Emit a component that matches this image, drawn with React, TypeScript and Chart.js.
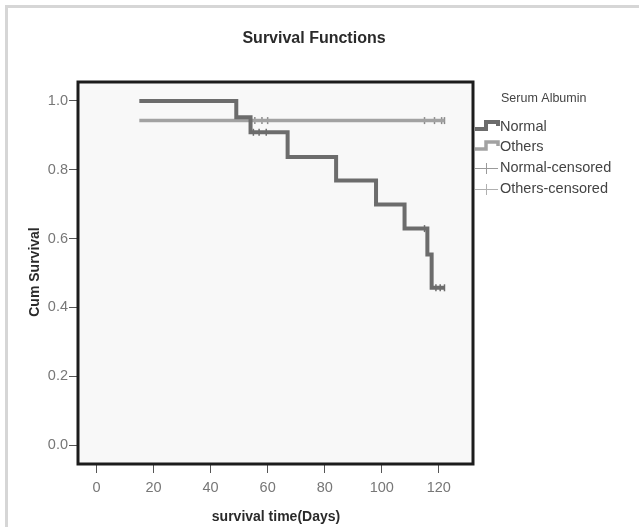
import React, { useEffect, useRef } from "react";
import { Chart, registerables } from "chart.js";

Chart.register(...registerables);

// ---- data ----
const normalTimes = [15, 49, 54, 67, 84, 98, 108, 116, 117.5, 122];
const normalSurv = [1.0, 0.953, 0.909, 0.837, 0.769, 0.699, 0.629, 0.554, 0.457, 0.457];
const othersTimes = [15, 122];
const othersSurv = [0.943, 0.943];
const normalCensoredTimes = [55, 57, 59.5, 115, 119, 120.5, 122];
const normalCensoredSurv = [0.909, 0.909, 0.909, 0.629, 0.457, 0.457, 0.457];
const othersCensoredTimes = [55.5, 58, 60, 115, 118.5, 121, 122];
const othersCensoredSurv = [0.943, 0.943, 0.943, 0.943, 0.943, 0.943, 0.943];
const xTicks = [0, 20, 40, 60, 80, 100, 120];
const yTicks = [0, 0.2, 0.4, 0.6, 0.8, 1.0];
const legendTitle = "Serum Albumin";
const legendLabels = ["Normal", "Others", "Normal-censored", "Others-censored"];
const chartTitle = "Survival Functions";
const xTitle = "survival time(Days)";
const yTitle = "Cum Survival";

const NORMAL_COLOR = "#6c6c6c";
const OTHERS_COLOR = "#a2a2a2";
const FONT = "'Liberation Sans', Arial, sans-serif";

const zip = (xs: number[], ys: number[]) => xs.map((x, i) => ({ x, y: ys[i] }));

const decorPlugin = {
  id: "decor",
  beforeDraw(chart: any) {
    const { ctx, chartArea } = chart;
    ctx.save();
    ctx.fillStyle = "#ffffff";
    ctx.fillRect(0, 0, chart.width, chart.height);
    // outer light frame
    ctx.fillStyle = "#d6d6d6";
    ctx.fillRect(5, 5, chart.width - 5, 3);
    ctx.fillRect(5, 5, 3, chart.height - 5);
    // plot background
    ctx.fillStyle = "#f8f8f8";
    ctx.fillRect(chartArea.left, chartArea.top, chartArea.right - chartArea.left, chartArea.bottom - chartArea.top);
    ctx.restore();
  },
  afterDraw(chart: any) {
    const { ctx, chartArea } = chart;
    ctx.save();
    // box
    ctx.strokeStyle = "#1c1c1c";
    ctx.lineWidth = 3;
    ctx.strokeRect(chartArea.left, chartArea.top, chartArea.right - chartArea.left, chartArea.bottom - chartArea.top);

    // title
    ctx.fillStyle = "#2a2a2a";
    ctx.textAlign = "center";
    ctx.textBaseline = "middle";
    ctx.font = `bold 16px ${FONT}`;
    ctx.fillText(chartTitle, 314, 39);

    // axis titles
    ctx.font = `bold 14px ${FONT}`;
    ctx.fillText(xTitle, 276, 517);
    ctx.save();
    ctx.translate(35, 272);
    ctx.rotate(-Math.PI / 2);
    ctx.fillText(yTitle, 0, 0);
    ctx.restore();

    // legend
    const lx = chartArea.right + 2;
    ctx.textAlign = "left";
    ctx.fillStyle = "#444444";
    ctx.font = `12.5px ${FONT}`;
    ctx.fillText(legendTitle, 501, 99);
    ctx.font = `14.5px ${FONT}`;
    const rows = [127, 147, 168, 189];
    legendLabels.forEach((lab, i) => ctx.fillText(lab, 500, rows[i]));

    const stepIcon = (y: number, color: string, w: number) => {
      ctx.strokeStyle = color;
      ctx.lineWidth = w;
      ctx.lineJoin = "miter";
      ctx.beginPath();
      ctx.moveTo(lx, y + 2);
      ctx.lineTo(486, y + 2);
      ctx.lineTo(486, y - 5);
      ctx.lineTo(498, y - 5);
      ctx.lineTo(498, y - 1);
      ctx.stroke();
    };
    stepIcon(rows[0], NORMAL_COLOR, 4);
    stepIcon(rows[1], OTHERS_COLOR, 3.5);
    const crossIcon = (y: number, color: string) => {
      ctx.strokeStyle = color;
      ctx.lineWidth = 1;
      ctx.beginPath();
      ctx.moveTo(lx, y + 0.5);
      ctx.lineTo(498, y + 0.5);
      ctx.moveTo(486.5, y - 5);
      ctx.lineTo(486.5, y + 6);
      ctx.stroke();
    };
    crossIcon(rows[2], "#9a9a9a");
    crossIcon(rows[3], "#b0b0b0");
    ctx.restore();
  },
};

export default function App() {
  const ref = useRef<HTMLCanvasElement | null>(null);
  useEffect(() => {
    if (!ref.current) return;
    const chart = new Chart(ref.current, {
      type: "scatter",
      data: {
        datasets: [
          {
            label: "Normal",
            data: zip(normalTimes, normalSurv),
            showLine: true,
            stepped: true,
            borderColor: NORMAL_COLOR,
            borderWidth: 4,
            pointRadius: 0,
            borderJoinStyle: "miter",
          },
          {
            label: "Others",
            data: zip(othersTimes, othersSurv),
            showLine: true,
            stepped: true,
            borderColor: OTHERS_COLOR,
            borderWidth: 3.5,
            pointRadius: 0,
          },
          {
            label: "Normal-censored",
            data: zip(normalCensoredTimes, normalCensoredSurv),
            showLine: false,
            pointStyle: "line",
            rotation: 90,
            pointRadius: 3.5,
            borderColor: NORMAL_COLOR,
            backgroundColor: NORMAL_COLOR,
            pointBorderWidth: 1.5,
          },
          {
            label: "Others-censored",
            data: zip(othersCensoredTimes, othersCensoredSurv),
            showLine: false,
            pointStyle: "line",
            rotation: 90,
            pointRadius: 3.5,
            borderColor: "#8a8a8a",
            backgroundColor: "#8a8a8a",
            pointBorderWidth: 1.5,
          },
        ],
      },
      options: {
        animation: false,
        responsive: false,
        layout: { padding: { left: 18, top: 82, right: 166, bottom: 23 } },
        plugins: { legend: { display: false }, title: { display: false }, tooltip: { enabled: false } },
        scales: {
          x: {
            type: "linear",
            min: -6.5,
            max: 132,
            afterFit: (s: any) => {
              s.height = 40;
            },
            afterBuildTicks: (s: any) => {
              s.ticks = xTicks.map((v) => ({ value: v }));
            },
            grid: { drawOnChartArea: false, drawTicks: true, tickLength: 9, color: "#555555", lineWidth: 1 },
            border: { display: false },
            ticks: {
              color: "#777777",
              font: { family: FONT, size: 14.5 },
              padding: 6,
              maxRotation: 0,
              callback: (v: any) => String(v),
            },
          },
          y: {
            type: "linear",
            min: -0.0552,
            max: 1.0552,
            afterFit: (s: any) => {
              s.width = 60;
            },
            afterBuildTicks: (s: any) => {
              s.ticks = yTicks.map((v) => ({ value: v }));
            },
            grid: { drawOnChartArea: false, drawTicks: true, tickLength: 9, color: "#555555", lineWidth: 1 },
            border: { display: false },
            ticks: {
              color: "#777777",
              font: { family: FONT, size: 14.5 },
              padding: 1,
              callback: (v: any) => Number(v).toFixed(1),
            },
          },
        },
      },
      plugins: [decorPlugin],
    } as any);
    return () => chart.destroy();
  }, []);
  return (
    <div style={{ position: "absolute", left: 0, top: 0, width: 639, height: 527 }}>
      <canvas ref={ref} width={639} height={527} style={{ width: 639, height: 527, display: "block" }} />
    </div>
  );
}
